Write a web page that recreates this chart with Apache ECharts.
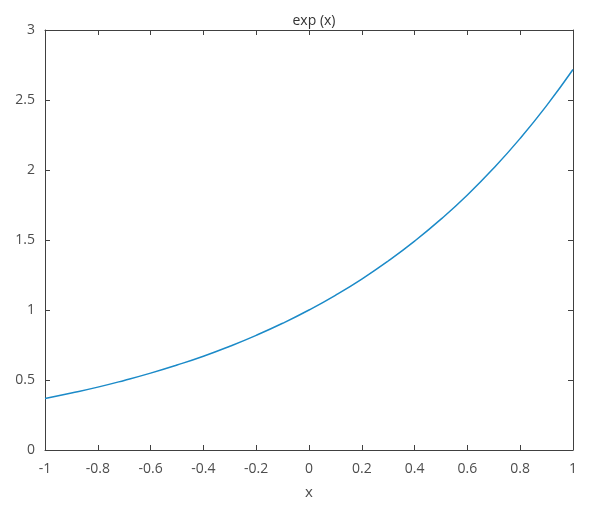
<!DOCTYPE html>
<html>
<head>
<meta charset="utf-8">
<script src="https://cdn.jsdelivr.net/npm/echarts@6/dist/echarts.min.js"></script>
<style>
  html, body { margin: 0; padding: 0; background: #fff; }
  #chart { width: 600px; height: 505px; }
</style>
</head>
<body>
<div id="chart"></div>
<script>
// values
const xValues = [-1, -0.9, -0.8, -0.7, -0.6, -0.5, -0.4, -0.3, -0.2, -0.1, 0, 0.1, 0.2, 0.3, 0.4, 0.5, 0.6, 0.7, 0.8, 0.9, 1]
const yValues = [0.368, 0.407, 0.449, 0.497, 0.549, 0.607, 0.670, 0.741, 0.819, 0.905, 1.0, 1.105, 1.221, 1.350, 1.492, 1.649, 1.822, 2.014, 2.226, 2.460, 2.718]
const titleText = 'exp (x)'
const xName = 'x'

const chart = echarts.init(document.getElementById('chart'))

const textColor = '#4d4d4d'
const axisColor = '#404040'
const fontFamily = '"Open Sans", "Noto Sans", sans-serif'

function boxAxis(base, showLabels, margin) {
  return Object.assign({
    type: 'value',
    axisLine: { show: true, onZero: false, lineStyle: { color: axisColor, width: 1 } },
    axisTick: { show: true, inside: true, length: 5, lineStyle: { color: axisColor } },
    splitLine: { show: false },
    axisLabel: {
      show: showLabels,
      color: textColor,
      fontSize: 14,
      fontFamily: fontFamily,
      margin: margin || 10
    }
  }, base)
}

chart.setOption({
  animation: false,
  backgroundColor: '#fff',
  title: {
    text: titleText,
    left: 309,
    top: 9,
    textAlign: 'center',
    textStyle: { color: '#333', fontSize: 14, fontWeight: 'normal', fontFamily: fontFamily }
  },
  grid: { left: 45, right: 27, top: 30, bottom: 52, containLabel: false },
  xAxis: [
    boxAxis({
      min: -1, max: 1, interval: 0.2, position: 'bottom',
      name: xName, nameLocation: 'middle', nameGap: 35,
      nameTextStyle: { color: textColor, fontSize: 15, fontFamily: fontFamily }
    }, true, 12),
    boxAxis({ min: -1, max: 1, interval: 0.2, position: 'top' }, false)
  ],
  yAxis: [
    boxAxis({ min: 0, max: 3, interval: 0.5, position: 'left' }, true, 10),
    boxAxis({ min: 0, max: 3, interval: 0.5, position: 'right' }, false)
  ],
  series: [{
    type: 'line',
    data: xValues.map((x, i) => [x, yValues[i]]),
    smooth: 0.5,
    showSymbol: false,
    lineStyle: { color: '#1b8ac8', width: 1.5 }
  }]
})
</script>
</body>
</html>
